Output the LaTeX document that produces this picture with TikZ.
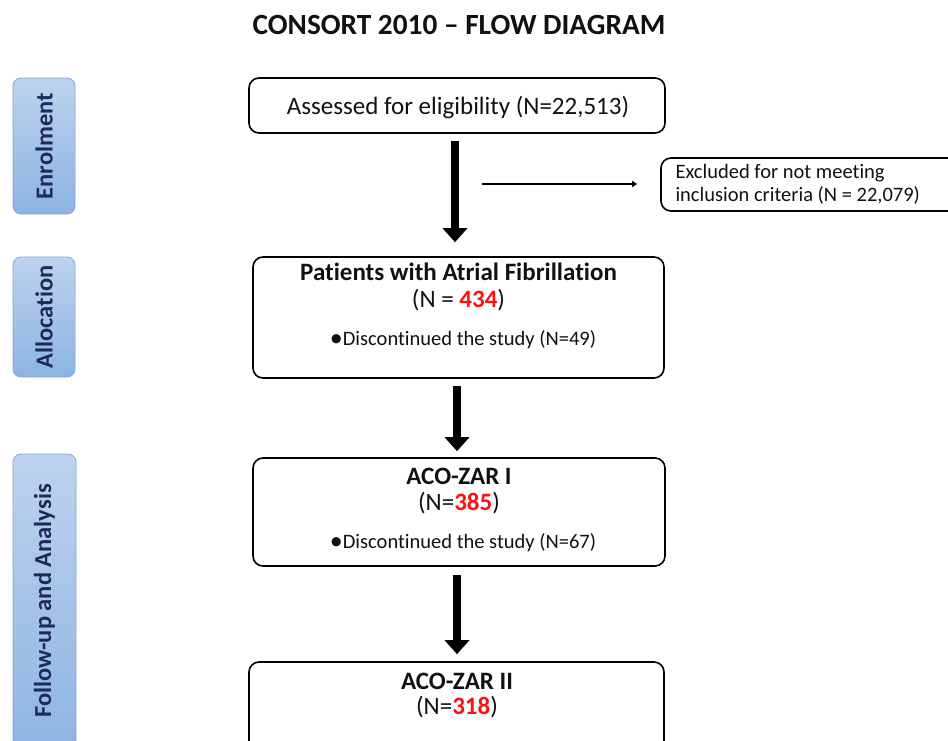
\documentclass[tikz,border=0pt]{standalone}
\usepackage{fontspec}
\setmainfont[Ligatures={NoCommon}]{Carlito}
\usetikzlibrary{arrows.meta,positioning}
\definecolor{sidefill1}{HTML}{BDD3EE}
\definecolor{sidefill2}{HTML}{8DB3E2}
\definecolor{sideline}{HTML}{7FA7DA}
\definecolor{navy}{HTML}{1C2B5A}
\definecolor{txt}{HTML}{111111}
\definecolor{redn}{HTML}{FF1010}
\tikzset{
  flowbox/.style={draw=black, line width=1.6pt, rounded corners=10pt, inner sep=0pt},
  sidebox/.style={draw=sideline, line width=0.8pt, rounded corners=8pt, top color=sidefill1, bottom color=sidefill2, inner sep=0pt},
  sidelabel/.style={rotate=90, text=navy, font=\fontsize{24.5}{28}\selectfont\bfseries},
  bigarrow/.style={line width=8pt, -{Triangle[width=24pt,length=14pt]}},
  thinarrow/.style={line width=1.8pt, -{Triangle[width=6pt,length=5pt]}},
  regtext/.style={text=txt, font=\fontsize{25}{29}\selectfont},
  boldtext/.style={text=txt, font=\fontsize{25}{29}\selectfont\bfseries},
  smalltext/.style={text=txt, font=\fontsize{20.5}{23}\selectfont},
}
\newcommand{\rn}[1]{\textcolor{redn}{\bfseries #1}}
\newcommand{\bul}{{\fontsize{26}{26}\selectfont\raisebox{-0.5pt}{\textbullet}}}
\begin{document}
\begin{tikzpicture}[x=1pt,y=-1pt]
\useasboundingbox (0,0) rectangle (948,740);
% title
\node[text=txt, font=\fontsize{29.3}{33}\selectfont\bfseries] (title) at (459,25) {CONSORT 2010 – FLOW DIAGRAM};
% side boxes
\node[sidebox, minimum width=62pt, minimum height=136pt] (s1) at (44,146) {};
\node[sidelabel] (s1t) at (s1.center) {Enrolment};
\node[sidebox, minimum width=62pt, minimum height=120pt] (s2) at (44,317) {};
\node[sidelabel] (s2t) at (s2.center) {Allocation};
\node[sidebox, minimum width=63pt, minimum height=306pt] (s3) at (44.5,607) {};
\node[sidelabel] (s3t) at (44.5,601) {Follow-up and Analysis};
% flow boxes
\node[flowbox, minimum width=416pt, minimum height=55pt] (b1) at (457,105.5) {};
\node[regtext] (b1t) at (458,107) {Assessed for eligibility (N=22,513)};
\node[flowbox, minimum width=300pt, minimum height=53pt] (ex) at (811,184.5) {};
\node[smalltext, anchor=west, align=left] (ext) at (672,184) {Excluded for not meeting\\inclusion criteria (N = 22,079)};
\node[flowbox, minimum width=411pt, minimum height=121pt] (b2) at (458.5,317.5) {};
\node[boldtext] (b2a) at (458.5,272) {Patients with Atrial Fibrillation};
\node[regtext] (b2b) at (458.5,300) {(N = \rn{434})};
\node[smalltext] (b2c) at (463,340) {\bul Discontinued the study (N=49)};
\node[flowbox, minimum width=412pt, minimum height=108pt] (b3) at (459,512) {};
\node[boldtext] (b3a) at (459,476) {ACO-ZAR I};
\node[regtext] (b3b) at (459,503) {(N=\rn{385})};
\node[smalltext] (b3c) at (463,543) {\bul Discontinued the study (N=67)};
\node[flowbox, minimum width=415pt, minimum height=100pt] (b4) at (456.5,712) {};
\node[boldtext] (b4a) at (457,681) {ACO-ZAR II};
\node[regtext] (b4b) at (457,707) {(N=\rn{318})};
% arrows
\draw[bigarrow, shorten <=7pt, shorten >=14pt] (b1.south -| 455,0) -- (b2.north -| 455,0);
\draw[bigarrow, shorten <=7pt, shorten >=6pt] (b2.south -| 457,0) -- (b3.north -| 457,0);
\draw[bigarrow, shorten <=8pt, shorten >=7pt] (b3.south -| 457,0) -- (b4.north -| 457,0);
\coordinate (hs) at (482,184);
\draw[thinarrow, shorten >=23pt] (hs) -- (ex.west |- hs);
\end{tikzpicture}
\end{document}
